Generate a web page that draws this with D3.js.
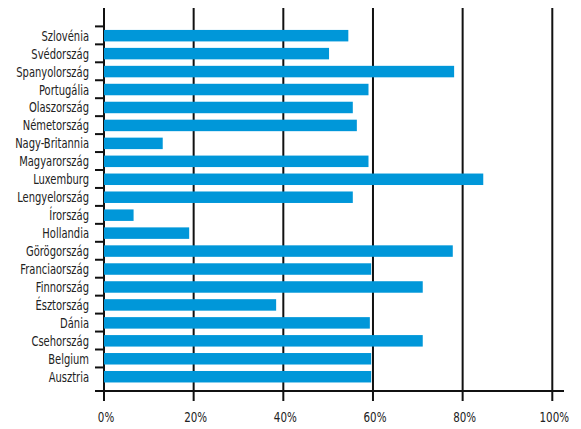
<!DOCTYPE html>
<html><head><meta charset="utf-8">
<script src="https://cdn.jsdelivr.net/npm/d3@7"></script>
<style>
body{margin:0;background:#fff;}
text{font-family:"DejaVu Sans Condensed","Liberation Sans Narrow",sans-serif;fill:#222;}
</style></head>
<body><svg id="c" width="581" height="429"></svg>
<script>
const categories = ["Szlovénia","Svédország","Spanyolország","Portugália","Olaszország","Németország","Nagy-Britannia","Magyarország","Luxemburg","Lengyelország","Írország","Hollandia","Görögország","Franciaország","Finnország","Észtország","Dánia","Csehország","Belgium","Ausztria"];
const values = [54.5,50.2,78.1,59.0,55.5,56.4,13.1,59.0,84.6,55.5,6.6,19.0,77.8,59.6,71.1,38.4,59.3,71.1,59.6,59.6];
const xTicks = [0,20,40,60,80,100];

(function(){
const svg = d3.select("#c");
const mLeft = 104, mRight = 552.3, mTop = 8, axisY = 391;
const bandTop = 26.7, bandH = 17.95;

const x = d3.scaleLinear().domain([0,100]).range([mLeft,mRight]);
const y = d3.scaleBand().domain(categories).range([bandTop, bandTop + bandH*categories.length]).paddingInner(0.36).paddingOuter(0.18);

svg.append("g").selectAll("line").data(xTicks).join("line")
  .attr("x1",d=>x(d)).attr("x2",d=>x(d)).attr("y1",mTop).attr("y2",axisY+10)
  .attr("stroke","#111").attr("stroke-width",2);

svg.append("g").selectAll("rect").data(categories).join("rect")
  .attr("x",x(0)).attr("y",d=>y(d))
  .attr("width",(d,i)=>x(values[i])-x(0)).attr("height",y.bandwidth())
  .attr("fill","#0097d9");

const step = y.step();
svg.append("g").selectAll("line").data(categories).join("line")
  .attr("x1",mLeft-9).attr("x2",mLeft)
  .attr("y1",(d)=>y(d)-step*y.paddingInner()/2 - 0.3)
  .attr("y2",(d)=>y(d)-step*y.paddingInner()/2 - 0.3)
  .attr("stroke","#111").attr("stroke-width",2);

svg.append("line").attr("x1",mLeft-9).attr("x2",564).attr("y1",axisY).attr("y2",axisY)
  .attr("stroke","#111").attr("stroke-width",2);

const sx = 0.82;
svg.append("g").selectAll("text").data(categories).join("text")
  .attr("transform",d=>`translate(89,${y(d)+y.bandwidth()/2}) scale(${sx},1)`)
  .attr("dy","0.37em").attr("text-anchor","end").attr("font-size",13.5)
  .text(d=>d);

svg.append("g").selectAll("text").data(xTicks).join("text")
  .attr("transform",d=>`translate(${x(d)+2},422) scale(${sx},1)`)
  .attr("text-anchor","middle").attr("font-size",14)
  .text(d=>d+"%");
})();
</script></body></html>
